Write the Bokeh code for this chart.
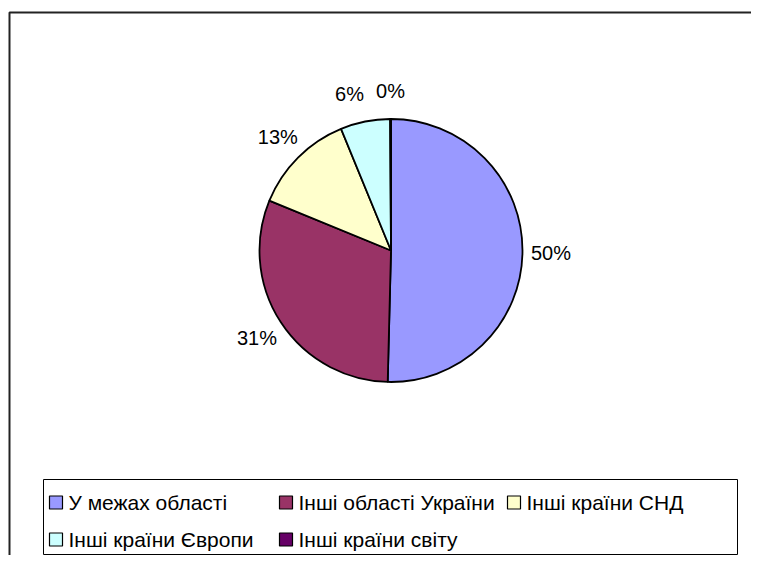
import math
from bokeh.plotting import figure
from bokeh.models import ColumnDataSource, Range1d
from bokeh.core.properties import value
from bokeh.embed import file_html
from bokeh.resources import INLINE

# ---- data ----
categories = ["У межах області", "Інші області України", "Інші країни СНД",
              "Інші країни Європи", "Інші країни світу"]
shares = [50.4, 30.8, 12.6, 6.1, 0.1]
colors = ["#9999FF", "#993366", "#FFFFCC", "#CCFFFF", "#660066"]

# ---- layout (pixels, data units == screen px) ----
W, H = 751, 555
CX, CY, R = 390.5, 305.0, 131.5
LABEL_R = 160.0
LABEL_DX = [0, 0, 0, -10, 0]   # small nudges to keep neighbouring labels apart
FONT = "Liberation Sans"

p = figure(width=W, height=H, output_backend="svg", toolbar_location=None,
           x_range=Range1d(0, W), y_range=Range1d(0, H),
           x_axis_location=None, y_axis_location=None, min_border=0)
p.grid.visible = False
p.outline_line_color = None
p.background_fill_color = "white"
p.border_fill_color = "white"

# outer chart frame (right/bottom run past the window as in the reference)
p.quad(left=[9], right=[W + 40], top=[543], bottom=[-40], fill_color=None,
       line_color="#222222", line_width=2)

# ---- pie ----
total = sum(shares)
starts, ends, mids = [], [], []
cum = 0.0
for s in shares:
    a0 = math.pi / 2 - 2 * math.pi * cum / total
    cum += s
    a1 = math.pi / 2 - 2 * math.pi * cum / total
    starts.append(a0)
    ends.append(a1)
    mids.append((a0 + a1) / 2)

src = ColumnDataSource(dict(start=starts, end=ends, color=colors, cat=categories))
p.wedge(x=CX, y=CY, radius=R, start_angle="start", end_angle="end",
        direction="clock", fill_color="color", line_color="black",
        line_width=1.8, source=src)

labels = [f"{round(s)}%" for s in shares]
lx = [CX + LABEL_R * math.cos(m) + d for m, d in zip(mids, LABEL_DX)]
ly = [CY + LABEL_R * math.sin(m) for m in mids]
p.text(x=lx, y=ly, text=labels, text_font=value(FONT), text_font_size="20px",
       text_align="center", text_baseline="middle", text_color="black")

# ---- legend ----
p.quad(left=[43], right=[737], top=[76], bottom=[1], fill_color="white",
       line_color="black", line_width=1)
col_x = [55.5, 285.5, 513.5]
row_y = [53, 16]
sq_x, sq_y, tx, ty = [], [], [], []
for i, c in enumerate(categories):
    cx = col_x[i % 3]
    cy = row_y[i // 3]
    sq_x.append(cx)
    sq_y.append(cy)
    tx.append(cx + 12.5)
    ty.append(cy)
p.rect(x=sq_x, y=sq_y, width=13, height=13, fill_color=colors,
       line_color="black", line_width=1.2)
p.text(x=tx, y=ty, text=categories, text_font=value(FONT),
       text_font_size="21px", text_align="left", text_baseline="middle",
       text_color="black")

open("out.html", "w").write(file_html(p, INLINE))
